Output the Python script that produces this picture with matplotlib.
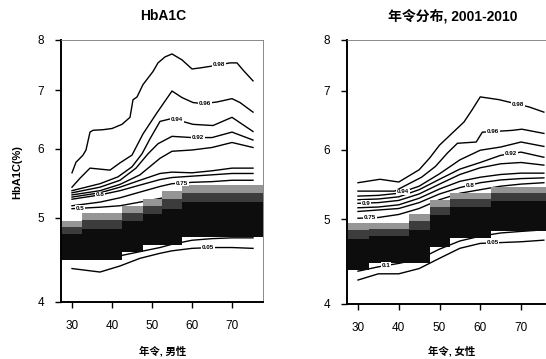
import numpy as np
import matplotlib
matplotlib.use('Agg')
import matplotlib.pyplot as plt
from matplotlib.ticker import FixedLocator, FixedFormatter, NullLocator

plt.rcParams['font.family'] = ['Liberation Sans', 'Noto Sans CJK SC']

# ---------------------------------------------------------------- data
# male panel : percentile curves (age, HbA1c %)
m_q98_age = [30, 31, 31.5, 32.75, 33.5, 34.5, 35.25, 37.75, 40, 42.5, 44.5, 45.25, 46.25,
             47.75, 50.25, 51.5, 53.25, 55, 57.5, 60, 62, 65.25, 69.5, 71.25, 72.75, 75.25]
m_q98_val = [5.63, 5.79, 5.82, 5.90, 5.98, 6.27, 6.30, 6.31, 6.33, 6.40, 6.52, 6.83, 6.88,
             7.11, 7.36, 7.53, 7.65, 7.71, 7.59, 7.41, 7.43, 7.47, 7.53, 7.53, 7.39, 7.18]
m_q96_age = [30, 32, 34.5, 39.5, 42, 45, 47.75, 51.25, 55, 57.5, 60.25, 62.75, 66.25, 70, 72, 75.25]
m_q96_val = [5.42, 5.55, 5.70, 5.67, 5.78, 5.90, 6.24, 6.60, 6.99, 6.87, 6.78, 6.76, 6.79, 6.85, 6.78, 6.61]
m_q94_age = [30, 37, 41.5, 45, 47.5, 49.5, 52, 55, 60.25, 65.25, 70, 75.25]
m_q94_val = [5.37, 5.47, 5.57, 5.72, 5.92, 6.16, 6.45, 6.50, 6.40, 6.38, 6.52, 6.28]
m_q92_age = [30, 37, 42, 46, 49, 51.5, 55, 60, 65, 70, 75.25]
m_q92_val = [5.34, 5.42, 5.52, 5.70, 5.92, 6.08, 6.20, 6.18, 6.18, 6.27, 6.14]
m_age = [30, 37, 42, 47, 52, 55, 60, 65, 70, 75.25]
m_q90 = [5.31, 5.37, 5.46, 5.60, 5.85, 5.96, 5.98, 6.02, 6.10, 6.02]
m_q85 = [5.28, 5.34, 5.42, 5.52, 5.62, 5.64, 5.63, 5.66, 5.70, 5.70]
m_q80 = [5.25, 5.31, 5.37, 5.45, 5.53, 5.56, 5.58, 5.60, 5.62, 5.62]
m_q75 = [5.16, 5.21, 5.27, 5.35, 5.43, 5.47, 5.49, 5.50, 5.52, 5.52]
m_q50 = [5.12, 5.14, 5.16, 5.21, 5.26, 5.30, 5.33, 5.35, 5.36, 5.36]
m_q10 = [4.50, 4.50, 4.52, 4.57, 4.62, 4.66, 4.71, 4.73, 4.74, 4.74]
m_q05 = [4.37, 4.33, 4.40, 4.49, 4.55, 4.58, 4.61, 4.62, 4.62, 4.61]

# male panel : shaded age-group boxes
m_bin_edges = [27.25, 32.5, 42.5, 47.75, 52.5, 57.5, 77.75]
m_bin_top = [4.96, 5.06, 5.15, 5.25, 5.36, 5.45]
m_bin_bottom = [4.47, 4.47, 4.57, 4.65, 4.65, 4.75]

# female panel : percentile curves
f_q98_age = [30, 35.4, 40, 45, 47.6, 50, 53.2, 56, 58, 60, 64.6, 72, 75.6]
f_q98_val = [5.50, 5.55, 5.51, 5.69, 5.87, 6.07, 6.27, 6.45, 6.66, 6.89, 6.84, 6.71, 6.62]
f_q96_age = [30, 39, 41, 45.6, 49, 52, 54.4, 59, 60.5, 67.8, 70.2, 75.6]
f_q96_val = [5.38, 5.38, 5.44, 5.58, 5.74, 5.95, 6.10, 6.12, 6.28, 6.31, 6.33, 6.26]
f_age = [30, 35, 40, 45, 50, 55, 60, 65, 70, 75.6]
f_q94 = [5.31, 5.32, 5.35, 5.45, 5.63, 5.84, 5.99, 6.04, 6.12, 6.05]
f_q92 = [5.26, 5.27, 5.30, 5.40, 5.55, 5.70, 5.80, 5.91, 5.96, 5.88]
f_q90 = [5.21, 5.22, 5.25, 5.34, 5.48, 5.62, 5.72, 5.78, 5.80, 5.76]
f_q85 = [5.15, 5.16, 5.19, 5.28, 5.41, 5.52, 5.58, 5.62, 5.64, 5.64]
f_q80 = [5.10, 5.12, 5.14, 5.22, 5.34, 5.43, 5.50, 5.54, 5.56, 5.57]
f_q75 = [5.01, 5.02, 5.06, 5.14, 5.26, 5.35, 5.40, 5.45, 5.48, 5.50]
f_q50 = [4.80, 4.82, 4.85, 4.92, 5.02, 5.10, 5.15, 5.18, 5.20, 5.21]
f_q10 = [4.36, 4.41, 4.45, 4.50, 4.62, 4.72, 4.78, 4.82, 4.84, 4.86]
f_q05 = [4.26, 4.33, 4.33, 4.39, 4.51, 4.63, 4.69, 4.70, 4.71, 4.73]

f_bin_edges = [27.6, 32.7, 42.6, 47.6, 52.6, 62.7, 78.5]
f_bin_top = [4.95, 4.95, 5.07, 5.26, 5.36, 5.44]
f_bin_bottom = [4.37, 4.46, 4.46, 4.65, 4.76, 4.85]

# (label, ages, values, label age or None)
male_curves = [
    ('0.98', m_q98_age, m_q98_val, 66.8),
    ('0.96', m_q96_age, m_q96_val, 63.3),
    ('0.94', m_q94_age, m_q94_val, 56.2),
    ('0.92', m_q92_age, m_q92_val, 61.5),
    ('0.9', m_age, m_q90, None),
    ('0.85', m_age, m_q85, None),
    ('0.8', m_age, m_q80, 37),
    ('0.75', m_age, m_q75, 57.5),
    ('0.5', m_age, m_q50, 32),
    ('0.1', m_age, m_q10, None),
    ('0.05', m_age, m_q05, 64),
]
female_curves = [
    ('0.98', f_q98_age, f_q98_val, 69.3),
    ('0.96', f_q96_age, f_q96_val, 63.2),
    ('0.94', f_age, f_q94, 41),
    ('0.92', f_age, f_q92, 67.5),
    ('0.9', f_age, f_q90, 32),
    ('0.85', f_age, f_q85, None),
    ('0.8', f_age, f_q80, 57.5),
    ('0.75', f_age, f_q75, 33),
    ('0.5', f_age, f_q50, None),
    ('0.1', f_age, f_q10, 36.9),
    ('0.05', f_age, f_q05, 63),
]

xticks = [30, 40, 50, 60, 70]
yticks = [4, 5, 6, 7, 8]


def draw_boxes(ax, edges, tops, bottoms):
    # each age group: light stipple on top, dark grey band, black core
    for i in range(len(tops)):
        x0, w = edges[i], edges[i + 1] - edges[i]
        lt, lb = np.log(tops[i]), np.log(bottoms[i])
        cut1 = np.exp(lt - 0.15 * (lt - lb))
        cut2 = np.exp(lt - 0.33 * (lt - lb))
        ax.bar(x0, cut2 - bottoms[i], bottom=bottoms[i], width=w, align='edge',
               color='#0d0d0d', lw=0, zorder=2)
        ax.bar(x0, cut1 - cut2, bottom=cut2, width=w, align='edge',
               color='#3c3c3c', lw=0, zorder=2)
        ax.bar(x0, tops[i] - cut1, bottom=cut1, width=w, align='edge',
               color='#959595', lw=0, zorder=2)


def draw_panel(ax, curves, edges, tops, bottoms):
    for lab, a, v, la in curves:
        ax.plot(a, v, color='black', lw=1.0, zorder=1)
        if la is not None:
            yv = np.exp(np.interp(la, a, np.log(v)))
            ax.text(la, yv, lab, fontsize=4.5, fontweight='bold', ha='center', va='center',
                    zorder=4, bbox=dict(facecolor='white', edgecolor='none', pad=0.6))
    draw_boxes(ax, edges, tops, bottoms)
    ax.set_yscale('log')
    ax.set_xlim(27.25, 77.75)
    ax.set_ylim(4, 8)
    ax.yaxis.set_major_locator(FixedLocator(yticks))
    ax.yaxis.set_major_formatter(FixedFormatter([str(t) for t in yticks]))
    ax.yaxis.set_minor_locator(NullLocator())
    ax.set_xticks(xticks)
    ax.tick_params(direction='out', length=4, width=1, labelsize=8.5)
    ax.tick_params(axis='x', pad=9)
    ax.tick_params(axis='y', pad=8)
    for s in ['left', 'bottom']:
        ax.spines[s].set_linewidth(1.4)
    for s in ['top', 'right']:
        ax.spines[s].set_linewidth(0.6)
        ax.spines[s].set_color('#777777')


fig = plt.figure(figsize=(5.46, 3.59), dpi=100)
W, H = 546.0, 359.0
ax1 = fig.add_axes([61 / W, 1 - 302 / H, 202 / W, 262 / H])
ax2 = fig.add_axes([346.8 / W, 1 - 304 / H, 205.8 / W, 264 / H])

draw_panel(ax1, male_curves, m_bin_edges, m_bin_top, m_bin_bottom)
draw_panel(ax2, female_curves, f_bin_edges, f_bin_top, f_bin_bottom)

fig.text(163 / W, 1 - 16 / H, 'HbA1C', fontsize=10, fontweight='bold', ha='center', va='center')
fig.text(453 / W, 1 - 16 / H, '年令分布, 2001-2010', fontsize=10, fontweight='bold',
         ha='center', va='center')
fig.text(163 / W, 1 - 351 / H, '年令, 男性', fontsize=7.5, fontweight='bold', ha='center', va='center')
fig.text(452 / W, 1 - 351 / H, '年令, 女性', fontsize=7.5, fontweight='bold', ha='center', va='center')
fig.text(17 / W, 1 - 172 / H, 'HbA1C(%)', fontsize=8, fontweight='bold', ha='center', va='center',
         rotation=90)

fig.savefig('out.png', dpi=100)
